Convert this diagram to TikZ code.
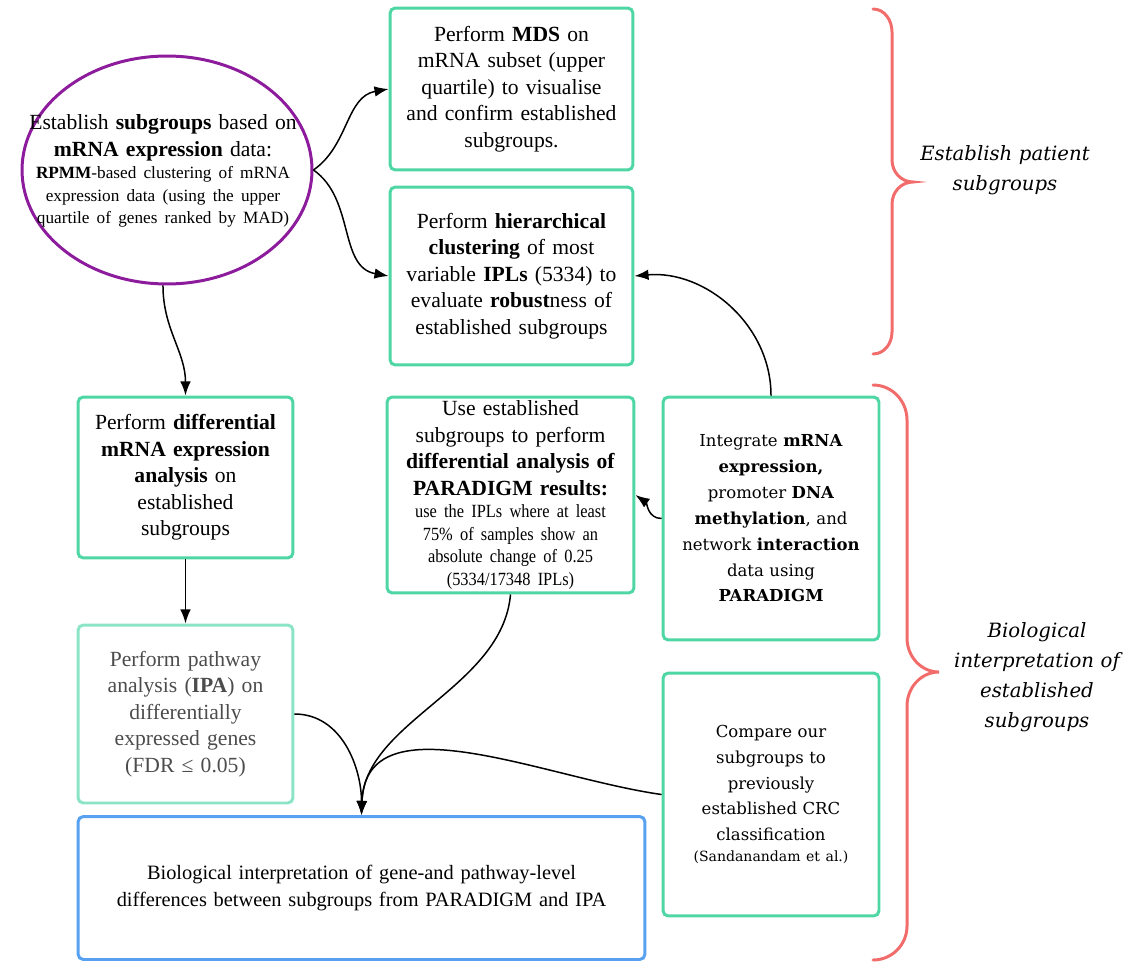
\documentclass[tikz,border=0pt]{standalone}
\usepackage{fontspec}
\setmainfont{Liberation Serif}
\newfontfamily\dvserif{DejaVu Serif}
\newfontfamily\condserif[FakeStretch=0.88]{Liberation Serif}
\usepackage{tikz}
\usetikzlibrary{shapes.geometric,arrows.meta}

\definecolor{boxgreen}{RGB}{78,214,164}
\definecolor{palegreen}{RGB}{140,228,198}
\definecolor{boxblue}{RGB}{88,160,240}
\definecolor{bracered}{RGB}{242,108,108}
\definecolor{ellpurple}{RGB}{140,28,156}

\newcommand\bodytxt{\fontsize{12.3}{15.1}\selectfont}
\newcommand\smalltxt{\fontsize{9.8}{12.7}\selectfont}

\tikzset{
  stepbox/.style={draw=boxgreen, line width=1.7pt, rounded corners=3pt, align=center,
    inner sep=0pt, text width=4.5cm, font=\bodytxt},
  widebox/.style={stepbox, font=\dvserif\fontsize{9.4}{14.7}\selectfont},
  flow/.style={-{Latex[length=8pt,width=6pt]}, line width=0.85pt},
  bracket/.style={draw=bracered, line width=1.7pt, line cap=round},
  grouplabel/.style={align=center, text width=4cm, font=\dvserif\itshape\fontsize{11.2}{17}\selectfont}
}

\begin{document}
\begin{tikzpicture}[x=0.02cm, y=-0.02cm]
  \useasboundingbox (0,0) rectangle (1141,963);

  % first step: subgroups from mRNA data
  \node[draw=ellpurple, line width=1.7pt, ellipse, minimum width=5.8cm, minimum height=4.56cm,
    inner sep=0pt] (ell) at (167,170) {};
  \node[align=center, text width=5.6cm, font=\bodytxt] (elltext) at (163,171)
    {Establish \textbf{subgroups} based on\\
     \textbf{mRNA expression} data:\par
     {\smalltxt \textbf{RPMM}-based clustering of mRNA\\
     expression data (using the upper\\
     quartile of genes ranked by MAD)\par}};

  \node[stepbox, minimum width=4.86cm, minimum height=3.24cm] (mds) at (511.5,89)
    {Perform \textbf{MDS} on\\ mRNA subset (upper\\ quartile) to visualise\\ and confirm established\\ subgroups.};
  \node[stepbox, minimum width=4.86cm, minimum height=3.56cm] (hier) at (511.5,276)
    {Perform \textbf{hierarchical}\\ \textbf{clustering} of most\\ variable \textbf{IPLs} (5334) to\\ evaluate \textbf{robust}ness of\\ established subgroups};

  \node[stepbox, text width=4.1cm, minimum width=4.30cm, minimum height=3.22cm] (diff) at (185.5,477.5)
    {Perform \textbf{differential}\\ \textbf{mRNA expression}\\ \textbf{analysis} on\\ established\\ subgroups};
  \node[stepbox, text width=4.7cm, minimum width=4.94cm, minimum height=3.92cm] (par) at (510.5,495)
    {Use established\\ subgroups to perform\\ \textbf{differential analysis of}\\ \textbf{PARADIGM results:}\par
     {\condserif\fontsize{10.6}{12.8}\selectfont use the IPLs where at least\\ 75\% of samples show an\\ absolute change of 0.25\\ (5334/17348 IPLs)\par}};
  \node[widebox, text width=4.1cm, minimum width=4.32cm, minimum height=4.86cm] (integ) at (771,518.5)
    {Integrate \textbf{mRNA}\\ \textbf{expression,}\\ promoter \textbf{DNA}\\ \textbf{methylation}, and\\ network \textbf{interaction}\\ data using\\ \textbf{PARADIGM}};

  \node[stepbox, text width=4.1cm, draw=palegreen, text=black!70, minimum width=4.30cm, minimum height=3.56cm] (ipa) at (185.5,714)
    {Perform pathway\\ analysis (\textbf{IPA}) on\\ differentially\\ expressed genes\\ (FDR ≤ 0.05)};
  \node[widebox, text width=4.1cm, minimum width=4.32cm, minimum height=4.86cm] (comp) at (771,794.5)
    {Compare our\\ subgroups to\\ previously\\ established CRC\\ classification\par
     {\fontsize{8}{12}\selectfont (Sandanandam et al.)\par}\vspace{14pt}};

  \node[stepbox, text width=11cm, draw=boxblue, minimum width=11.34cm, minimum height=2.86cm,
    font=\fontsize{11.6}{15.1}\selectfont] (bio) at (361.5,888)
    {Biological interpretation of gene-and pathway-level\\ differences between subgroups from PARADIGM and IPA};

  % connectors
  \draw[flow] (ell.east) to[out=35, in=190] (mds.west);
  \draw[flow] (ell.east) to[out=-35, in=170] (hier.west);
  \draw[flow] (ell.268) to[out=-90, in=90] (diff.north);
  \draw[flow] (diff) -- (ipa);
  \draw[flow] (integ.north) to[out=90, in=5] (hier.east);
  \draw[flow] (integ.west) to[out=180, in=-35] (par.east);
  \draw[flow] (par.south) to[out=-95, in=88, looseness=0.9] (bio.north);
  \draw[flow] (ipa.east) to[out=0, in=90] (bio.north);
  \draw[flow] (comp.west) to[out=172, in=88] (bio.north);

  % braces on the right
  \draw[bracket] (873,9) to[out=0, in=90] (892,32) -- (892,160)
    to[out=-90, in=180] (913,182) to[out=180, in=90] (892,204) -- (892,332)
    to[out=-90, in=0] (873,354);
  \draw[bracket] (873,385) to[out=0, in=90] (907,420) -- (907,638)
    to[out=-90, in=180] (939,672) to[out=180, in=90] (907,706) -- (907,926)
    to[out=-90, in=0] (873,960);

  \node[grouplabel] (lbltop) at (1005,170) {Establish patient\\ subgroups};
  \node[grouplabel] (lblbot) at (1037,677) {Biological\\ interpretation of\\ established\\ subgroups};
\end{tikzpicture}
\end{document}
